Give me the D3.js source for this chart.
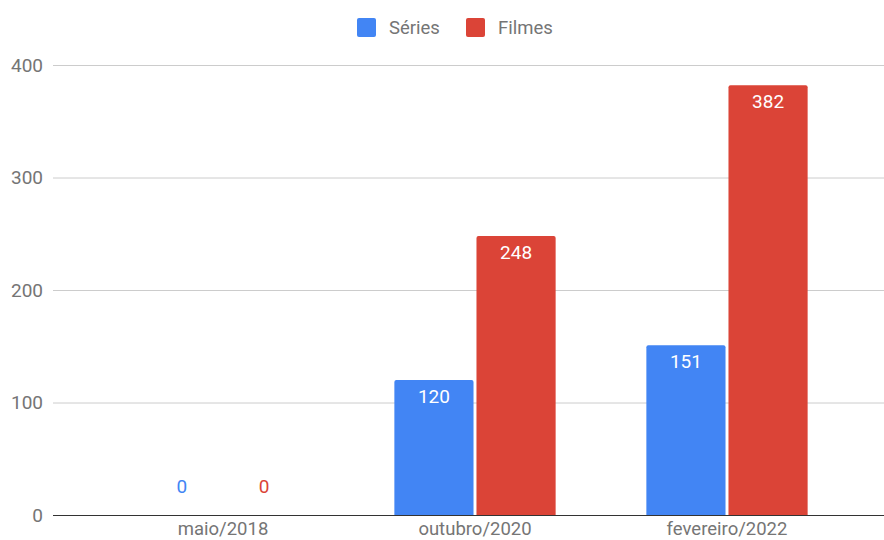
<!DOCTYPE html>
<html><head><meta charset="utf-8">
<script src="https://cdn.jsdelivr.net/npm/d3@7"></script>
<style>body{margin:0;background:#fff}svg{display:block;font-family:Roboto,Arial,sans-serif}</style>
</head><body><svg id="c" width="884" height="540"></svg>
<script>
const categories = ["maio/2018", "outubro/2020", "fevereiro/2022"];
const seriesNames = ["Séries", "Filmes"];
const seriesValues = [[0, 120, 151], [0, 248, 382]];
const yTicks = [0, 100, 200, 300, 400];
const colors = ["#4285F4", "#DB4437"];

const svg = d3.select("#c");
const y = d3.scaleLinear().domain([0, 400]).range([515, 65]);
const x = d3.scaleBand().domain(categories).range([97, 853]).paddingInner(0.36).paddingOuter(0.18);
const xs = d3.scaleBand().domain(d3.range(seriesNames.length)).range([0, x.bandwidth()]).paddingInner(0.036);

// gridlines
svg.append("g").selectAll("line").data(yTicks.filter(d => d !== 0)).join("line")
  .attr("x1", 53).attr("x2", 884).attr("y1", d => y(d) + 0.5).attr("y2", d => y(d) + 0.5)
  .attr("stroke", "#cccccc").attr("stroke-width", 1);

// y labels
svg.append("g").selectAll("text").data(yTicks).join("text")
  .attr("x", 43).attr("y", d => y(d)).attr("dy", "0.35em").attr("text-anchor", "end")
  .attr("font-size", 19).attr("fill", "#757575").text(d => d);

// bars
const data = [];
categories.forEach((c, i) => seriesValues.forEach((vals, s) => data.push({c, s, v: vals[i]})));
function barPath(x0, y0, w, h, r) {
  if (h <= 0) return "";
  r = Math.min(r, h);
  return `M${x0},${y0+h}V${y0+r}Q${x0},${y0} ${x0+r},${y0}H${x0+w-r}Q${x0+w},${y0} ${x0+w},${y0+r}V${y0+h}Z`;
}
svg.append("g").selectAll("path").data(data).join("path")
  .attr("d", d => barPath(x(d.c) + xs(d.s), y(d.v), xs.bandwidth(), y(0) - y(d.v), 2))
  .attr("fill", d => colors[d.s]);

// value labels
svg.append("g").selectAll("text").data(data).join("text")
  .attr("x", d => x(d.c) + xs(d.s) + xs.bandwidth() / 2)
  .attr("y", d => d.v > 0 ? y(d.v) + 16 : y(0) - 29)
  .attr("dy", "0.35em").attr("text-anchor", "middle").attr("font-size", 19)
  .attr("fill", d => d.v > 0 ? "#ffffff" : colors[d.s]).text(d => d.v);

// baseline
svg.append("line").attr("x1", 53).attr("x2", 884).attr("y1", y(0) + 0.5).attr("y2", y(0) + 0.5)
  .attr("stroke", "#333333").attr("stroke-width", 1.2);

// x labels
svg.append("g").selectAll("text").data(categories).join("text")
  .attr("x", d => x(d) + x.bandwidth() / 2).attr("y", 529).attr("dy", "0.35em")
  .attr("text-anchor", "middle").attr("font-size", 18.5).attr("fill", "#757575").text(d => d);

// legend
const legX = [357, 466];
const lg = svg.append("g").selectAll("g").data(seriesNames).join("g")
  .attr("transform", (d, i) => `translate(${legX[i]},18)`);
lg.append("rect").attr("width", 19).attr("height", 19).attr("rx", 2).attr("fill", (d, i) => colors[i]);
lg.append("text").attr("x", 32).attr("y", 9.5).attr("dy", "0.35em").attr("font-size", 18.5)
  .attr("fill", "#757575").text(d => d);
</script></body></html>
